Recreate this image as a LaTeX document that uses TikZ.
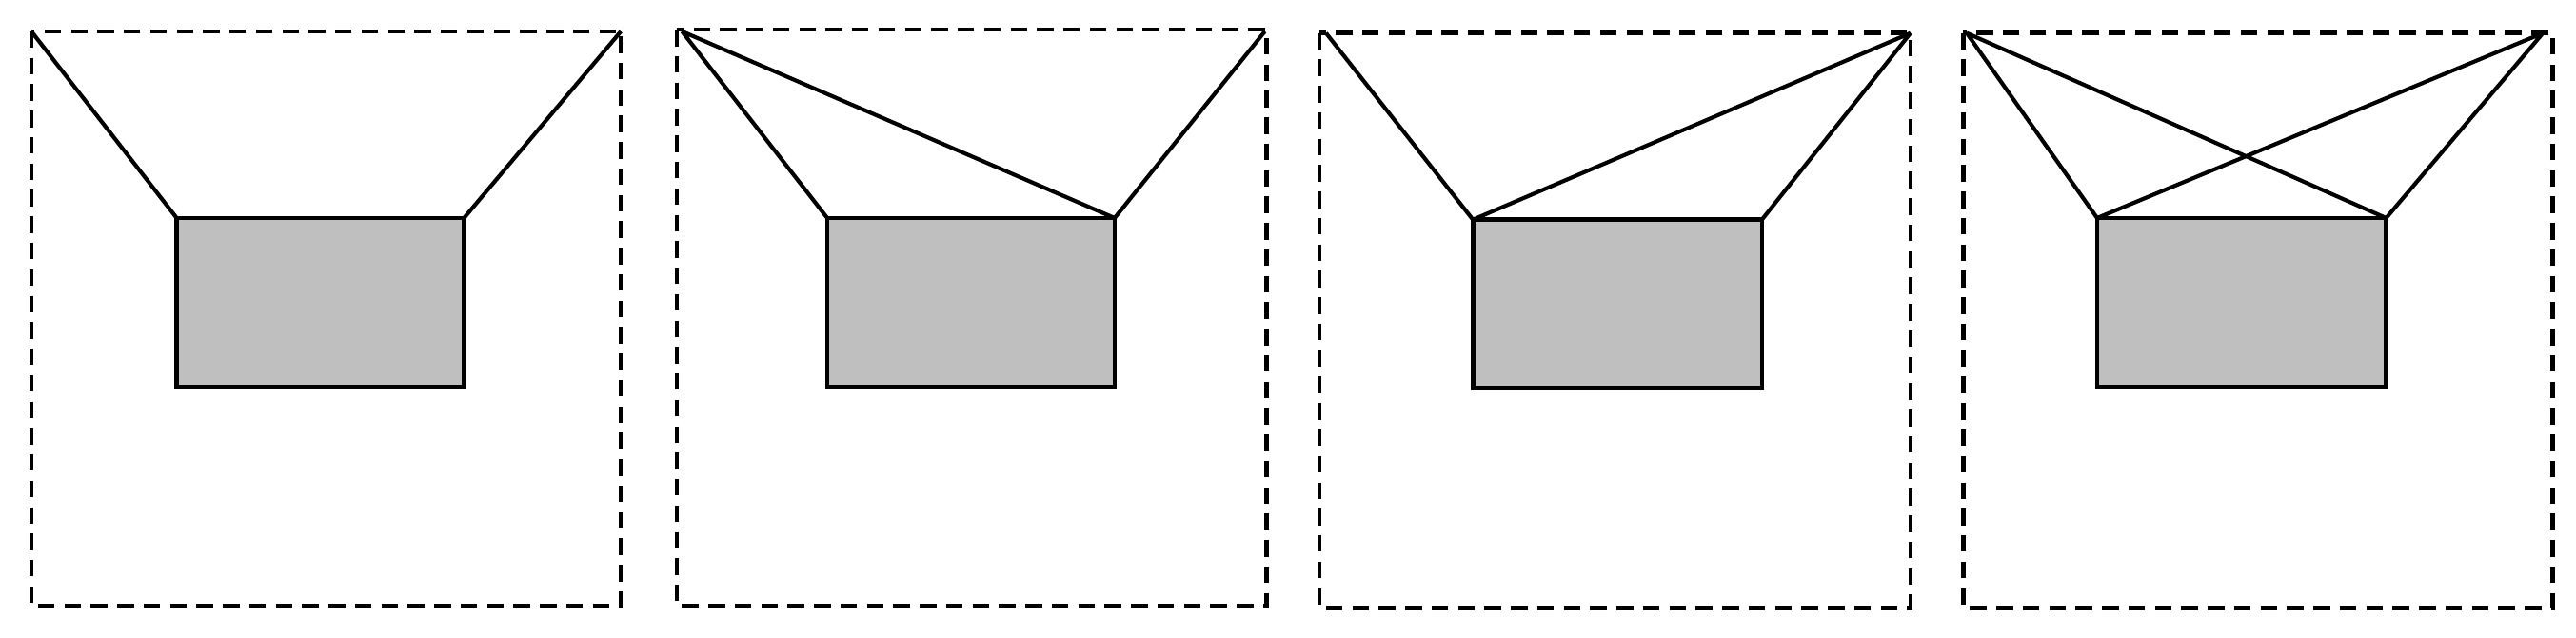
\documentclass[tikz,border=0pt]{standalone}
\begin{document}
\begin{tikzpicture}[x=0.5pt,y=-0.5pt,
  frame/.style={draw,dashed,dash pattern=on 5pt off 3pt,line width=1.3pt},
  box/.style={draw,fill=black!25,line width=1.3pt},
  wire/.style={line width=1.2pt}]
\useasboundingbox (0,0) rectangle (1560,386);
% panel 1
\draw[frame] (19,19) rectangle (376,367);
\draw[box] (107,132) rectangle (281,234);
\coordinate (a1) at (19,19); \coordinate (b1) at (376,19);
\coordinate (l1) at (107,132); \coordinate (r1) at (281,132);
\draw[wire] (a1)--(l1) (b1)--(r1);
% panel 2
\draw[frame] (410,18) rectangle (767,367);
\draw[box] (501,132) rectangle (675,234);
\coordinate (a2) at (413,19); \coordinate (b2) at (766,19);
\coordinate (l2) at (501,132); \coordinate (r2) at (675,132);
\draw[wire] (a2)--(l2) (a2)--(r2) (b2)--(r2);
% panel 3
\draw[frame] (799,20) rectangle (1157,368);
\draw[box] (892,133) rectangle (1067,235);
\coordinate (a3) at (803,20); \coordinate (b3) at (1157,20);
\coordinate (l3) at (892,133); \coordinate (r3) at (1067,133);
\draw[wire] (a3)--(l3) (b3)--(l3) (b3)--(r3);
% panel 4
\draw[frame] (1189,20) rectangle (1546,368);
\draw[box] (1270,132) rectangle (1445,234);
\coordinate (a4) at (1191,20); \coordinate (b4) at (1540,20);
\coordinate (l4) at (1270,132); \coordinate (r4) at (1445,132);
\draw[wire] (a4)--(l4) (a4)--(r4) (b4)--(l4) (b4)--(r4);
\end{tikzpicture}
\end{document}
